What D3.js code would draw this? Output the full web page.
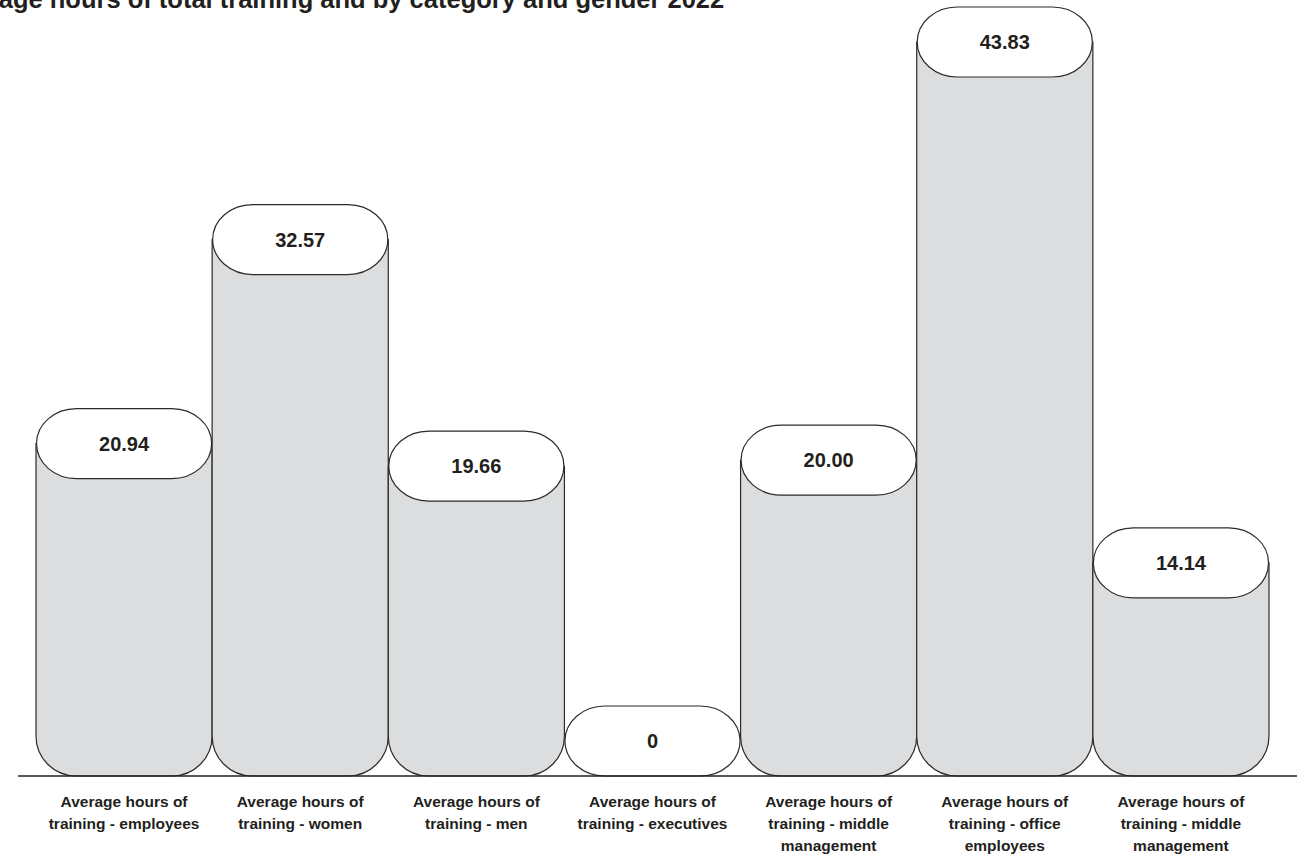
<!DOCTYPE html>
<html>
<head>
<meta charset="utf-8">
<script src="https://cdn.jsdelivr.net/npm/d3@7"></script>
<style>
  html, body { margin: 0; padding: 0; background: #ffffff; }
  svg { display: block; }
  text { font-family: "Liberation Sans", Arial, Helvetica, sans-serif; fill: #231f20; }
</style>
</head>
<body>
<svg id="chart" width="1312" height="854"></svg>
<script>
// Chart data
const title = "Average hours of total training and by category and gender 2022";
const categories = [
  "Average hours of training - employees",
  "Average hours of training - women",
  "Average hours of training - men",
  "Average hours of training - executives",
  "Average hours of training - middle management",
  "Average hours of training - office employees",
  "Average hours of training - middle management"
];
const values = [20.94, 32.57, 19.66, 0, 20.00, 43.83, 14.14];
const valueLabels = ["20.94", "32.57", "19.66", "0", "20.00", "43.83", "14.14"];

const svg = d3.select("#chart");
const baseline = 776;
const pillH = 70;
const cornerR = 40;

const x = d3.scaleBand()
  .domain(d3.range(categories.length))
  .range([36, 1269])
  .padding(0);

const y = d3.scaleLinear()
  .domain([0, 44])
  .range([baseline, 4]);

// Title
svg.append("text")
  .attr("x", -57)
  .attr("y", 8)
  .attr("font-size", 25.5)
  .attr("font-weight", "bold")
  .text(title);

const bars = svg.append("g");

values.forEach((v, i) => {
  const x0 = x(i), x1 = x(i) + x.bandwidth();
  const pillTop = Math.min(y(v), baseline - pillH);
  const bodyTop = pillTop + pillH / 2;
  const g = bars.append("g");

  // Bar body with rounded bottom corners
  if (v > 0) {
    const p = d3.path();
    p.moveTo(x0, bodyTop);
    p.lineTo(x1, bodyTop);
    p.lineTo(x1, baseline - cornerR);
    p.arcTo(x1, baseline, x1 - cornerR, baseline, cornerR);
    p.lineTo(x0 + cornerR, baseline);
    p.arcTo(x0, baseline, x0, baseline - cornerR, cornerR);
    p.closePath();
    g.append("path")
      .attr("d", p.toString())
      .attr("fill", "#dcdddf")
      .attr("stroke", "#2b2b2b")
      .attr("stroke-width", 1.2);
  }

  // Value pill
  g.append("rect")
    .attr("x", x0 + 0.5)
    .attr("y", pillTop)
    .attr("width", x.bandwidth() - 1)
    .attr("height", pillH)
    .attr("rx", 40)
    .attr("ry", pillH / 2)
    .attr("fill", "#ffffff")
    .attr("stroke", "#2b2b2b")
    .attr("stroke-width", 1.2);

  g.append("text")
    .attr("x", (x0 + x1) / 2)
    .attr("y", pillTop + pillH / 2)
    .attr("dy", "0.36em")
    .attr("text-anchor", "middle")
    .attr("font-size", 20)
    .attr("font-weight", "bold")
    .text(valueLabels[i]);
});

// Baseline axis
svg.append("line")
  .attr("x1", 18).attr("x2", 1297)
  .attr("y1", baseline).attr("y2", baseline)
  .attr("stroke", "#231f20")
  .attr("stroke-width", 1.5);

// Category labels, wrapped under each bar
const wrapWidth = 165;
categories.forEach((c, i) => {
  const t = svg.append("text")
    .attr("text-anchor", "middle")
    .attr("font-size", 15.5)
    .attr("font-weight", "bold");
  const cx = x(i) + x.bandwidth() / 2;
  const words = c.split(" ");
  let line = [];
  let lineNo = 0;
  let tspan = t.append("tspan").attr("x", cx).attr("y", 807);
  words.forEach(w => {
    line.push(w);
    tspan.text(line.join(" "));
    if (tspan.node().getComputedTextLength() > wrapWidth && line.length > 1) {
      line.pop();
      tspan.text(line.join(" "));
      line = [w];
      lineNo++;
      tspan = t.append("tspan").attr("x", cx).attr("y", 807 + lineNo * 22).text(w);
    }
  });
});
</script>
</body>
</html>
